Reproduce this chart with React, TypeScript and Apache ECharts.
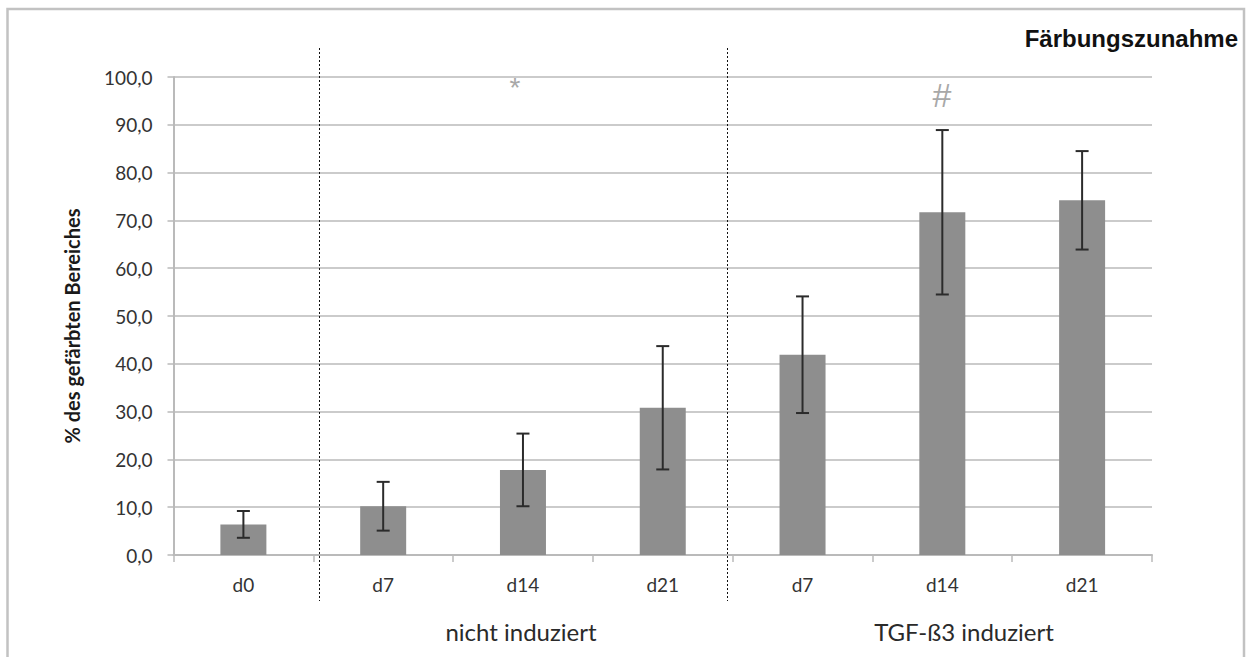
import React, { useEffect, useRef } from "react";
import * as echarts from "echarts";

// Staining increase per group and day (mean ± SD, % of stained area)
const categoryKeys = ["n0", "n7", "n14", "n21", "t7", "t14", "t21"];
const categoryLabels = ["d0", "d7", "d14", "d21", "d7", "d14", "d21"];
const meanValues = [6.4, 10.2, 17.8, 30.8, 41.9, 71.7, 74.2];
const sdValues = [2.8, 5.1, 7.6, 12.9, 12.2, 17.2, 10.3];
const yTicks = { min: 0, max: 100, interval: 10 };
const yAxisTitle = "% des gefärbten Bereiches";
const groupLabels = ["nicht induziert", "TGF-ß3 induziert"];

const FONT = "Lato, 'Open Sans', sans-serif";

export default function App() {
  const ref = useRef<HTMLDivElement>(null);

  useEffect(() => {
    document.body.style.margin = "0";
    const chart = echarts.init(ref.current!, null, { renderer: "svg" });

    const errorData = meanValues.map((m, i) => [i, m - sdValues[i], m + sdValues[i]]);

    chart.setOption({
      animation: false,
      backgroundColor: "#fff",
      grid: { left: 173.5, right: 94, top: 77, bottom: 102 },
      xAxis: {
        type: "category",
        data: categoryKeys,
        axisLine: { lineStyle: { color: "#bababa", width: 2 } },
        axisTick: { show: true, length: 7, lineStyle: { color: "#bababa", width: 1.5 } },
        axisLabel: {
          formatter: (_v: string, i: number) => categoryLabels[i],
          color: "#333",
          fontFamily: FONT,
          fontSize: 19,
          margin: 20,
        },
        splitLine: { show: false },
      },
      yAxis: {
        type: "value",
        min: yTicks.min,
        max: yTicks.max,
        interval: yTicks.interval,
        axisLine: { show: true, lineStyle: { color: "#bababa", width: 2 } },
        axisTick: { show: true, length: 6, lineStyle: { color: "#bababa", width: 1.5 } },
        axisLabel: {
          formatter: (v: number) => v.toFixed(1).replace(".", ","),
          color: "#333",
          fontFamily: FONT,
          fontSize: 19,
          margin: 21,
        },
        splitLine: { lineStyle: { color: "#bababa", width: 1.5 } },
      },
      series: [
        {
          type: "bar",
          data: meanValues,
          barWidth: 46,
          itemStyle: { color: "#8e8e8e" },
          z: 2,
        },
        {
          type: "custom",
          data: errorData,
          z: 3,
          renderItem: (params: any, api: any) => {
            const x = api.value(0);
            const lo = api.coord([x, api.value(1)]);
            const hi = api.coord([x, api.value(2)]);
            const cap = 6.5;
            const style = { stroke: "#2b2b2b", lineWidth: 2 };
            return {
              type: "group",
              children: [
                { type: "line", shape: { x1: hi[0], y1: hi[1], x2: lo[0], y2: lo[1] }, style },
                { type: "line", shape: { x1: hi[0] - cap, y1: hi[1], x2: hi[0] + cap, y2: hi[1] }, style },
                { type: "line", shape: { x1: lo[0] - cap, y1: lo[1], x2: lo[0] + cap, y2: lo[1] }, style },
              ],
            };
          },
        },
      ],
      graphic: [
        {
          type: "rect",
          shape: { x: 7.5, y: 9, width: 1236.5, height: 700 },
          style: { fill: "none", stroke: "#c2c2c2", lineWidth: 2.5 },
          silent: true,
        },
        {
          type: "text",
          right: 8,
          top: 26,
          style: {
            text: "Färbungszunahme",
            fontFamily: "'Liberation Sans', Arial, sans-serif",
            fontWeight: "bold",
            fontSize: 24,
            fill: "#111",
          },
        },
        {
          type: "text",
          x: 72,
          y: 326,
          rotation: Math.PI / 2,
          style: {
            text: yAxisTitle,
            fontFamily: FONT,
            fontWeight: "bold",
            fontSize: 20,
            fill: "#1a1a1a",
            align: "center",
            verticalAlign: "middle",
          },
        },
        {
          type: "line",
          shape: { x1: 319.5, y1: 48, x2: 319.5, y2: 601 },
          style: { stroke: "#111", lineWidth: 1, lineDash: [2, 2] },
          z: 10,
        },
        {
          type: "line",
          shape: { x1: 727.5, y1: 48, x2: 727.5, y2: 601 },
          style: { stroke: "#111", lineWidth: 1, lineDash: [2, 2] },
          z: 10,
        },
        {
          type: "text",
          x: 521,
          y: 631,
          style: {
            text: groupLabels[0],
            fontFamily: FONT,
            fontSize: 24,
            fill: "#2a2a2a",
            align: "center",
            verticalAlign: "middle",
          },
        },
        {
          type: "text",
          x: 964,
          y: 631,
          style: {
            text: groupLabels[1],
            fontFamily: FONT,
            fontSize: 24,
            fill: "#2a2a2a",
            align: "center",
            verticalAlign: "middle",
          },
        },
        {
          type: "text",
          x: 515,
          y: 73,
          style: {
            text: "*",
            fontFamily: "'Liberation Sans', Arial, sans-serif",
            fontSize: 28,
            fill: "#a8a8a8",
            align: "center",
            verticalAlign: "top",
          },
        },
        {
          type: "text",
          x: 942,
          y: 95,
          style: {
            text: "#",
            fontFamily: "'Liberation Sans', Arial, sans-serif",
            fontSize: 34,
            fill: "#a8a8a8",
            align: "center",
            verticalAlign: "middle",
          },
        },
      ],
    });

    return () => chart.dispose();
  }, []);

  return (
    <div
      ref={ref}
      style={{ position: "absolute", left: 0, top: 0, width: 1246, height: 657 }}
    />
  );
}
